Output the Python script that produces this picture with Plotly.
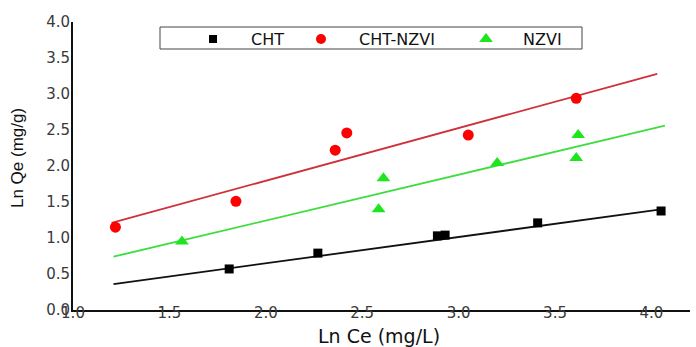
import plotly.graph_objects as go

# --- data ---
cht_x = [1.81, 2.27, 2.89, 2.93, 3.41, 4.05]
cht_y = [0.57, 0.79, 1.03, 1.04, 1.21, 1.375]

nz_cht_x = [1.22, 1.845, 2.36, 2.42, 3.05, 3.61]
nz_cht_y = [1.15, 1.51, 2.22, 2.46, 2.43, 2.94]

nzvi_x = [1.565, 2.585, 2.61, 3.20, 3.61, 3.62]
nzvi_y = [0.95, 1.40, 1.83, 2.04, 2.11, 2.43]

# fitted straight lines (end points)
cht_fit_x = [1.21, 4.03]
cht_fit_y = [0.36, 1.39]
nz_cht_fit_x = [1.20, 4.03]
nz_cht_fit_y = [1.21, 3.28]
nzvi_fit_x = [1.21, 4.07]
nzvi_fit_y = [0.74, 2.56]

series_names = ["CHT", "CHT-NZVI", "NZVI"]

x_ticks = [1.0, 1.5, 2.0, 2.5, 3.0, 3.5, 4.0]
y_ticks = [0.0, 0.5, 1.0, 1.5, 2.0, 2.5, 3.0, 3.5, 4.0]

SANS = "Liberation Sans, Arial, sans-serif"
WIDE = "DejaVu Sans, Verdana, sans-serif"

C_BLACK, C_RED, C_GREEN = "#000000", "#ff0000", "#1ee61e"
L_BLACK, L_RED, L_GREEN = "#111111", "#d0303a", "#40dd40"

fig = go.Figure()

for fx, fy, lc in [(cht_fit_x, cht_fit_y, L_BLACK),
                   (nz_cht_fit_x, nz_cht_fit_y, L_RED),
                   (nzvi_fit_x, nzvi_fit_y, L_GREEN)]:
    fig.add_trace(go.Scatter(x=fx, y=fy, mode="lines", line=dict(color=lc, width=1.8),
                             showlegend=False, hoverinfo="skip"))

fig.add_trace(go.Scatter(x=cht_x, y=cht_y, mode="markers", name=series_names[0], showlegend=False,
                         marker=dict(symbol="square", size=9, color=C_BLACK)))
fig.add_trace(go.Scatter(x=nz_cht_x, y=nz_cht_y, mode="markers", name=series_names[1], showlegend=False,
                         marker=dict(symbol="circle", size=11, color=C_RED)))
fig.add_trace(go.Scatter(x=nzvi_x, y=nzvi_y, mode="markers", name=series_names[2], showlegend=False,
                         marker=dict(symbol="triangle-up", size=12, color=C_GREEN)))

# ---- legend drawn in a pixel-space overlay (x2/y2) ----
leg_sym_x = [213, 321, 486]
leg_txt_x = [249, 357, 521]
leg_y = 39
for sx, sym, col, sz in zip(leg_sym_x, ["square", "circle", "triangle-up"],
                            [C_BLACK, C_RED, C_GREEN], [8, 10, 12]):
    fig.add_trace(go.Scatter(x=[sx], y=[leg_y], xaxis="x2", yaxis="y2", mode="markers",
                             marker=dict(symbol=sym, size=sz, color=col),
                             showlegend=False, hoverinfo="skip"))
fig.add_shape(type="rect", xref="x2", yref="y2", x0=160, x1=582, y0=27, y1=49,
              line=dict(color="#444444", width=1), fillcolor="rgba(0,0,0,0)", layer="above")
for tx, name in zip(leg_txt_x, series_names):
    fig.add_annotation(text=name, xref="x2", yref="y2", x=tx, y=leg_y + 0.5, xanchor="left",
                       yanchor="middle", showarrow=False,
                       font=dict(family=WIDE, size=16, color="#111111"))

axis_common = dict(showgrid=False, zeroline=False, showline=True, linecolor="#111111",
                   linewidth=2, ticks="", tickfont=dict(family=WIDE, size=15, color="#3a3a3a"),
                   tickformat=".1f")

fig.update_xaxes(range=[1.0, 4.2], tickvals=x_ticks, ticklabelstandoff=-12, **axis_common)
fig.update_yaxes(range=[0.0, 4.0], tickvals=y_ticks, ticklabelstandoff=-2, **axis_common)

fig.update_layout(
    xaxis2=dict(overlaying="x", anchor="y2", range=[73, 690], visible=False),
    yaxis2=dict(overlaying="y", anchor="x2", range=[310, 22], visible=False),
)

fig.add_annotation(text="Ln Ce (mg/L)", xref="paper", yref="paper", x=0.496, y=-0.09,
                   xanchor="center", yanchor="middle", showarrow=False,
                   font=dict(family=WIDE, size=19, color="#111111"))
fig.add_annotation(text="Ln Qe (mg/g)", xref="paper", yref="paper", x=-0.089, y=0.528,
                   xanchor="center", yanchor="middle", textangle=-90, showarrow=False,
                   font=dict(family=SANS, size=17, color="#111111"))

fig.update_layout(
    width=696, height=347,
    margin=dict(l=73, r=6, t=22, b=37, autoexpand=False),
    plot_bgcolor="white", paper_bgcolor="white",
    font=dict(family=WIDE, size=15, color="#111111"),
    showlegend=False,
)

fig.write_html("out.html", config={"displayModeBar": False},
               post_script="document.body.style.margin='0px';")
